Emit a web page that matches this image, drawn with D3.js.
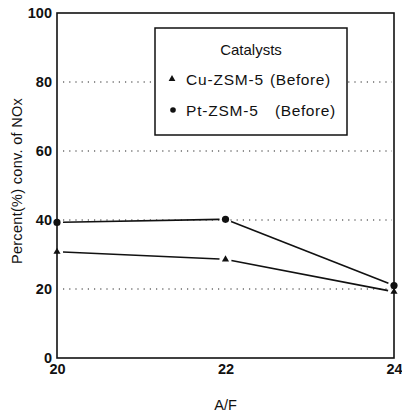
<!DOCTYPE html>
<html>
<head>
<meta charset="utf-8">
<script src="https://cdn.jsdelivr.net/npm/d3@7"></script>
<style>
  html, body { margin: 0; padding: 0; background: #fff; }
  svg { display: block; font-family: "Liberation Sans", Arial, Helvetica, sans-serif; }
</style>
</head>
<body>
<svg id="chart" width="402" height="416"></svg>
<script>
// A/F ratio on the x axis
const afRatios = [20, 22, 24];
// NOx conversion (%) for each catalyst
const cuZsm5 = [30.8, 28.6, 19.2];
const ptZsm5 = [39.3, 40.2, 21.0];
const yTicks = [0, 20, 40, 60, 80, 100];
const gridValues = [20, 40, 60, 80];
const legendLabels = [["Cu-ZSM-5", "(Before)"], ["Pt-ZSM-5", "(Before)"]];

const svg = d3.select("#chart");
const plotLeft = 57, plotRight = 394, plotTop = 13, plotBottom = 358;

const x = d3.scaleLinear().domain([20, 24]).range([plotLeft, plotRight]);
const y = d3.scaleLinear().domain([0, 100]).range([plotBottom, plotTop]);

// dotted grid lines
svg.append("g").selectAll("line").data(gridValues).join("line")
  .attr("x1", plotLeft + 6).attr("x2", plotRight - 2)
  .attr("y1", d => y(d)).attr("y2", d => y(d))
  .attr("stroke", "#222").attr("stroke-width", 1.1)
  .attr("stroke-dasharray", "1.2,5");

// frame
svg.append("rect")
  .attr("x", plotLeft).attr("y", plotTop)
  .attr("width", plotRight - plotLeft).attr("height", plotBottom - plotTop)
  .attr("fill", "none").attr("stroke", "#111").attr("stroke-width", 1.6);

// y axis labels
const yAxis = d3.axisLeft(y).tickValues(yTicks).tickSize(0).tickPadding(5);
svg.append("g").attr("transform", `translate(${plotLeft},0)`).call(yAxis)
  .call(g => g.select(".domain").remove())
  .selectAll("text")
  .attr("font-size", 14.5).attr("fill", "#111").attr("font-weight", "bold")
  .attr("font-family", "'Liberation Sans', Arial, sans-serif");

// x axis labels
const xAxis = d3.axisBottom(x).tickValues(afRatios).tickSize(0).tickPadding(6).tickFormat(d3.format("d"));
svg.append("g").attr("transform", `translate(0,${plotBottom})`).call(xAxis)
  .call(g => g.select(".domain").remove())
  .selectAll("text")
  .attr("font-size", 14.5).attr("fill", "#111").attr("font-weight", "bold")
  .attr("font-family", "'Liberation Sans', Arial, sans-serif");

// axis titles
svg.append("text").attr("x", x(22)).attr("y", 410)
  .attr("text-anchor", "middle").attr("font-size", 14.5).attr("fill", "#111")
  .text("A/F");
svg.append("text")
  .attr("transform", `translate(22,181) rotate(-90)`)
  .attr("text-anchor", "middle").attr("font-size", 14.5).attr("fill", "#111")
  .attr("letter-spacing", 0.3)
  .text("Percent(%) conv. of NOx");

// series lines with a small gap around each marker
const gap = 6;
function drawSeries(values) {
  const pts = afRatios.map((a, i) => [x(a), y(values[i])]);
  for (let i = 0; i < pts.length - 1; i++) {
    const [x1, y1] = pts[i], [x2, y2] = pts[i + 1];
    const len = Math.hypot(x2 - x1, y2 - y1);
    const ux = (x2 - x1) / len, uy = (y2 - y1) / len;
    svg.append("line")
      .attr("x1", x1 + ux * gap).attr("y1", y1 + uy * gap)
      .attr("x2", x2 - ux * gap).attr("y2", y2 - uy * gap)
      .attr("stroke", "#111").attr("stroke-width", 1.6);
  }
}
drawSeries(cuZsm5);
drawSeries(ptZsm5);

// markers
const tri = d3.symbol().type(d3.symbolTriangle).size(22);
svg.append("g").selectAll("path").data(cuZsm5).join("path")
  .attr("d", tri)
  .attr("transform", (d, i) => `translate(${x(afRatios[i])},${y(d)})`)
  .attr("fill", "#111");
svg.append("g").selectAll("circle").data(ptZsm5).join("circle")
  .attr("cx", (d, i) => x(afRatios[i])).attr("cy", d => y(d))
  .attr("r", 3.6).attr("fill", "#111");

// legend
const lg = svg.append("g");
lg.append("rect").attr("x", 155).attr("y", 28).attr("width", 192).attr("height", 107)
  .attr("fill", "#fff").attr("stroke", "#111").attr("stroke-width", 1.5);
lg.append("text").attr("x", 251).attr("y", 55).attr("text-anchor", "middle")
  .attr("font-size", 15).attr("fill", "#111").text("Catalysts");
lg.append("path").attr("d", d3.symbol().type(d3.symbolTriangle).size(20))
  .attr("transform", "translate(172,79)").attr("fill", "#111");
lg.append("circle").attr("cx", 173).attr("cy", 110).attr("r", 2.8).attr("fill", "#111");
const rows = lg.selectAll("g.item").data(legendLabels).join("g").attr("class", "item")
  .attr("transform", (d, i) => `translate(0,${85 + i * 31})`);
rows.append("text").attr("x", 186).attr("font-size", 15.5).attr("fill", "#111")
  .attr("letter-spacing", 0.8).text(d => d[0]);
rows.append("text").attr("x", (d, i) => i === 0 ? 270 : 275).attr("font-size", 15.5).attr("fill", "#111")
  .attr("letter-spacing", 0.6).text(d => d[1]);
</script>
</body>
</html>
